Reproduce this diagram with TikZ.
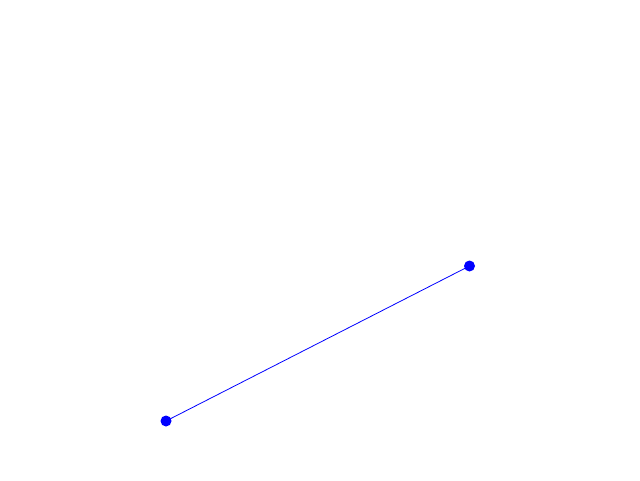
\documentclass[tikz,border=0pt]{standalone}
\begin{document}
\begin{tikzpicture}[x=0.5pt,y=-0.5pt,
  dotnode/.style={circle,fill=blue,inner sep=0pt,minimum size=5.5pt}]
\useasboundingbox (0,0) rectangle (640,480);
\node[dotnode] (a) at (166,421) {};
\node[dotnode] (b) at (469.5,266) {};
\draw[blue,line width=0.4pt] (a.center) -- (b.center);
\end{tikzpicture}
\end{document}
